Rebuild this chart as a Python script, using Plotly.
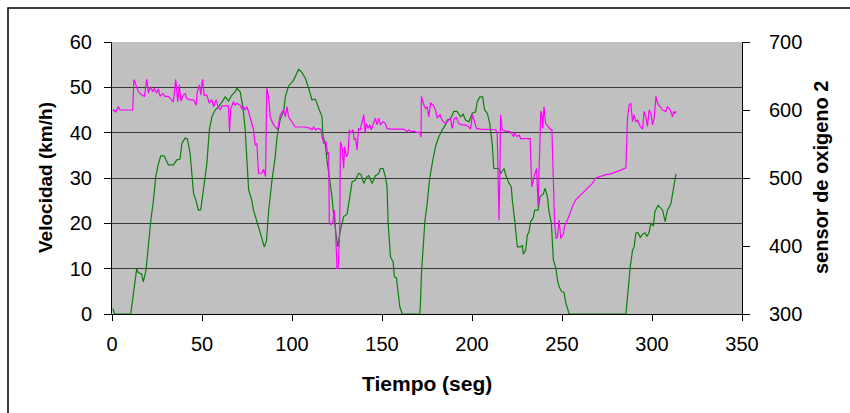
import plotly.graph_objects as go

# Speed trace: time (s) and vehicle speed (km/h)
tiempo_vel = [0.5, 1.5, 5, 10.4, 13.7, 14.5, 16.5, 17.4, 18.9, 20.2, 21.5, 23.0, 24.3, 25.8, 27.1,
              29.0, 31.3, 34.1, 36.0, 37.8, 38.8, 40.6, 41.9, 43.4, 44.3, 45.3, 46.7, 48.0, 49.3,
              50.8, 52.7, 54.1, 55.5, 57.3, 59.2, 61.5, 62.9, 64.7, 66.6, 68.4, 69.4, 71.2, 72.7,
              74.0, 74.9, 75.9, 77.7, 78.6, 80.5, 82.4, 84.6, 85.8, 87.0, 88.9, 90.7, 91.7, 93.5,
              95.3, 96.3, 98.1, 100.9, 103.7, 105.5, 107.4, 109.3, 111.1, 113.0, 114.8, 116.7,
              117.2, 118.5, 119.4, 120.9, 122.2, 123.2, 124.7, 125.4, 126.9, 128.7, 130.6, 131.5,
              132.4, 133.4, 135.2, 137.0, 138.3, 139.9, 141.4, 142.7, 144.5, 146.4, 148.2, 149.1,
              150.6, 151.9, 152.8, 153.4, 154.7, 156.2, 156.9, 158.0, 158.8, 159.9, 161.2, 166.0,
              171.0, 171.4, 172.0, 172.9, 173.8, 175.1, 176.4, 177.9, 179.7, 181.6, 183.4, 185.3,
              186.2, 188.0, 189.9, 191.7, 193.7, 195.1, 196.4, 198.3, 200.2, 202.0, 202.9, 204.4,
              205.9, 207.0, 208.5, 209.9, 211.2, 212.1, 214.8, 215.9, 217.8, 218.7, 220.6, 221.8,
              222.4, 223.7, 225.2, 227.0, 228.0, 228.5, 229.8, 230.7, 231.6, 232.6, 234.1, 234.8,
              236.7, 237.8, 239.6, 240.6, 241.9, 242.8, 244.1, 245.2, 246.5, 247.5, 248.4, 249.9,
              251.1, 252.1, 253.4, 254.0, 270.0, 285.5, 286.4, 287.9, 289.2, 290.1, 291.0, 292.0,
              293.5, 294.8, 296.1, 297.2, 298.4, 299.4, 300.8, 301.6, 303.4, 305.0, 305.9, 307.3,
              308.6, 310.5, 311.4, 312.3, 313.3]
velocidad = [1.2, 0, 0, 0, 9.9, 9.2, 8.8, 7.1, 9.7, 15.6, 20.4, 25.0, 30.3, 33.2, 34.9,
             34.9, 32.9, 32.9, 34.0, 34.2, 37.6, 38.8, 38.6, 35.4, 31.8, 26.6, 25.0, 22.9, 23.0,
             28.1, 33.2, 40.6, 43.5, 45.0, 45.7, 47.0, 47.9, 47.0, 48.3, 49.0, 49.8, 49.0, 45.7,
             40.6, 33.2, 27.4, 25.0, 22.9, 20.4, 17.8, 14.8, 16.0, 22.6, 29.6, 34.7, 39.1, 43.0,
             44.6, 47.9, 50.3, 51.6, 54.0, 53.3, 52.0, 49.8, 47.2, 47.4, 45.4, 43.5,
             39.1, 37.6, 34.0, 29.6, 25.9, 21.5, 16.3, 14.8, 18.5, 21.5, 22.0, 24.8,
             26.6, 29.2, 29.5, 31.0, 30.8, 28.8, 30.2, 30.5, 28.8, 30.5, 31.0, 32.1,
             32.1, 30.3, 28.1, 20.0, 12.6, 11.5, 8.2, 8.0, 4.6, 1.6, 0, 0,
             0, 2.7, 9.7, 14.8, 20.4, 24.4, 29.6, 33.2, 36.9, 39.1, 40.6, 41.7,
             42.8, 43.0, 44.7, 44.7, 43.5, 44.1, 42.8, 42.4, 44.3, 44.6, 46.8, 47.9,
             47.9, 45.0, 44.3, 42.0, 37.6, 32.1, 32.1, 31.0, 32.1, 30.7, 28.8, 28.1,
             25.1, 20.7, 14.8, 14.8, 15.2, 13.2, 14.0, 17.4, 18.0, 20.4, 21.3, 22.9,
             22.9, 25.9, 26.5, 27.7, 25.9, 22.6, 20.0, 11.9, 10.3, 7.5, 6.0, 4.9,
             4.8, 2.4, 0.9, 0, 0, 0, 3.8, 10.4, 14.1, 14.8, 17.8, 18.0,
             16.9, 17.6, 17.9, 17.1, 18.0, 20.1, 19.4, 22.6, 24.0, 23.3, 22.9, 20.4,
             22.9, 24.3, 26.3, 27.9, 30.9]

# Oxygen sensor 2 trace: time (s) and sensor reading
tiempo_o2 = [0.5, 1.1, 2.2, 3.5, 4.5, 8.0, 11.5, 12.2, 13.4, 14.7, 16.5, 18.0, 19.3, 20.2, 21.2,
             22.6, 23.5, 24.8, 25.8, 26.7, 28.2, 29.5, 31.3, 32.8, 34.1, 35.4, 36.5, 37.4, 38.3,
             39.6, 40.6, 41.5, 43.4, 45.3, 46.7, 47.4, 48.6, 49.3, 50.3, 51.2, 52.7, 54.0, 55.5,
             56.4, 57.9, 58.9, 60.1, 61.1, 62.9, 64.7, 65.3, 66.0, 67.5, 68.4, 69.4, 71.2, 72.1,
             73.0, 74.0, 74.9, 75.9, 77.7, 78.6, 79.6, 80.5, 81.4, 83.3, 84.2, 85.3, 86.0, 87.0,
             87.9, 89.4, 90.7, 92.0, 93.5, 95.3, 96.3, 97.2, 98.1, 100.0, 101.8, 104.6, 107.4,
             110.2, 111.1, 112.0, 113.0, 114.8, 116.1, 116.7, 117.6, 118.9, 119.8, 120.4, 120.7,
             121.6, 122.7, 123.5, 124.0, 125.0, 125.7, 126.5, 126.9, 127.8, 128.7, 129.2, 130.2,
             131.1, 131.9, 132.8, 133.9, 134.6, 135.4, 136.1, 137.0, 137.9, 138.8, 139.9, 140.6,
             141.4, 142.3, 143.2, 144.0, 145.1, 146.3, 147.3, 148.2, 149.1, 150.6, 151.9, 152.8,
             154.7, 158.4, 162.1, 163.9, 164.9, 166.2, 167.7, 169.5, 171.0, 171.7, 171.9, 173.3,
             174.2, 175.1, 176.0, 177.0, 178.5, 179.7, 180.7, 182.2, 183.4, 185.3, 187.1, 188.0,
             189.0, 190.2, 191.4, 192.6, 194.5, 196.4, 198.3, 199.2, 200.2, 201.0, 202.5, 204.8,
             208.5, 210.3, 213.2, 214.0, 214.4, 215.0, 215.5, 215.9, 216.8, 218.7, 221.5, 223.0,
             223.7, 224.9, 226.2, 227.1, 232.3, 232.7, 233.2, 234.5, 235.9, 236.7, 237.4, 238.2,
             238.8, 239.3, 240.0, 240.9, 242.2, 243.7, 244.4, 245.2, 245.9, 246.7, 247.4, 248.4,
             249.3, 250.8, 251.5, 253.0, 254.5, 255.8, 257.6, 259.5, 261.4, 263.2, 265.1, 266.9,
             268.8, 270.6, 272.5, 274.3, 277.1, 279.0, 281.0, 283.0, 285.5, 286.4, 287.3, 288.2,
             289.2, 290.1, 291.0, 292.0, 293.5, 294.8, 295.6, 296.6, 297.5, 298.4, 299.4, 300.3,
             301.2, 302.2, 303.1, 304.6, 305.9, 307.7, 308.6, 310.1, 311.4, 312.0, 312.7, 313.5]
oxigeno2 = [598, 600, 597, 605, 600, 600, 600, 645, 637, 627, 622, 620, 645, 625, 634,
            627, 632, 625, 631, 620, 624, 620, 620, 615, 612, 645, 612, 637, 613,
            622, 624, 617, 615, 615, 607, 627, 637, 622, 645, 622, 622, 610, 615,
            605, 615, 605, 600, 606, 606, 606, 568, 602, 612, 607, 610, 607, 602,
            605, 600, 605, 597, 580, 571, 548, 551, 507, 507, 513, 502, 632, 620,
            590, 580, 575, 571, 593, 600, 590, 605, 590, 583, 575, 575, 575,
            573, 571, 575, 571, 573, 571, 561, 551, 553, 534, 538, 436,
            431, 436, 453, 436, 367, 367, 424, 553, 546, 514, 546, 531,
            536, 571, 566, 571, 556, 558, 541, 573, 571, 580, 593, 566,
            580, 573, 578, 571, 578, 588, 578, 588, 578, 583, 580, 573,
            572, 572, 572, 568, 571, 568, 569, 567, 567, 560, 620, 607,
            602, 605, 590, 610, 607, 600, 588, 593, 585, 580, 586, 588,
            573, 588, 589, 580, 578, 578, 575, 572, 593, 585, 573, 572,
            572, 571, 571, 566, 517, 438, 507, 593, 571, 569, 568, 561,
            566, 561, 563, 558, 558, 531, 487, 502, 514, 458, 511, 598,
            595, 573, 605, 580, 576, 571, 571, 482, 433, 411, 413, 438,
            411, 418, 430, 438, 450, 458, 468, 473, 477, 482, 487, 492,
            500, 502, 504, 505, 506, 508, 509, 512, 515, 588, 607, 610,
            583, 593, 583, 585, 576, 572, 598, 590, 576, 600, 595, 578,
            588, 620, 610, 604, 600, 598, 605, 600, 590, 598, 595, 598]

x_ticks = [0, 50, 100, 150, 200, 250, 300, 350]
vel_ticks = [0, 10, 20, 30, 40, 50, 60]
o2_ticks = [300, 400, 500, 600, 700]

FONT = "Liberation Sans, Arial, sans-serif"

fig = go.Figure()
fig.add_trace(go.Scatter(x=tiempo_vel, y=velocidad, mode="lines", name="Velocidad",
                         line=dict(color="#0c800c", width=1.2), yaxis="y"))
fig.add_trace(go.Scatter(x=tiempo_o2, y=oxigeno2, mode="lines", name="sensor de oxigeno 2",
                         line=dict(color="#ff00ff", width=1.2), yaxis="y2"))

fig.update_layout(
    width=850, height=413,
    margin=dict(l=112, r=108, t=42, b=99),
    paper_bgcolor="white",
    plot_bgcolor="#c0c0c0",
    showlegend=False,
    font=dict(family=FONT, size=20, color="black"),
    xaxis=dict(range=[0, 350], tickvals=x_ticks, ticks="outside", ticklen=6, tickwidth=1,
               tickcolor="black", showline=True, linecolor="black", linewidth=1,
               showgrid=False, zeroline=False, ticklabelstandoff=6,
               tickfont=dict(family=FONT, size=20)),
    yaxis=dict(range=[0, 60], tickvals=vel_ticks, ticks="outside", ticklen=7, tickwidth=1,
               tickcolor="black", showline=True, linecolor="black", linewidth=1,
               showgrid=True, gridcolor="#3a3a3a", gridwidth=1.3, zeroline=False,
               ticklabelstandoff=8, tickfont=dict(family=FONT, size=20)),
    yaxis2=dict(range=[300, 700], tickvals=o2_ticks, overlaying="y", side="right",
                ticks="outside", ticklen=7, tickwidth=1, tickcolor="black",
                showline=True, linecolor="black", linewidth=1, showgrid=False,
                zeroline=False, ticklabelstandoff=15, tickfont=dict(family=FONT, size=20)),
)

# Axis titles
fig.add_annotation(text="<b>Velocidad (km/h)</b>", xref="paper", yref="paper",
                   x=(45 - 112) / 630, y=0.5, textangle=-90, showarrow=False,
                   font=dict(family=FONT, size=19), xanchor="center", yanchor="middle")
fig.add_annotation(text="<b>sensor de oxigeno 2</b>", xref="paper", yref="paper",
                   x=(821 - 112) / 630, y=0.5, textangle=-90, showarrow=False,
                   font=dict(family=FONT, size=20), xanchor="center", yanchor="middle")
fig.add_annotation(text="<b>Tiempo (seg)</b>", xref="paper", yref="paper",
                   x=0.5, y=(314 - 383) / 272, showarrow=False,
                   font=dict(family=FONT, size=21), xanchor="center", yanchor="middle")

# Chart frame (left and top edges visible)
fig.add_shape(type="rect", xref="paper", yref="paper",
              x0=(8 - 112) / 630, x1=(870 - 112) / 630,
              y0=(314 - 430) / 272, y1=(314 - 8) / 272,
              line=dict(color="black", width=1.5), fillcolor="rgba(0,0,0,0)", layer="above")

fig.write_html("out.html")
